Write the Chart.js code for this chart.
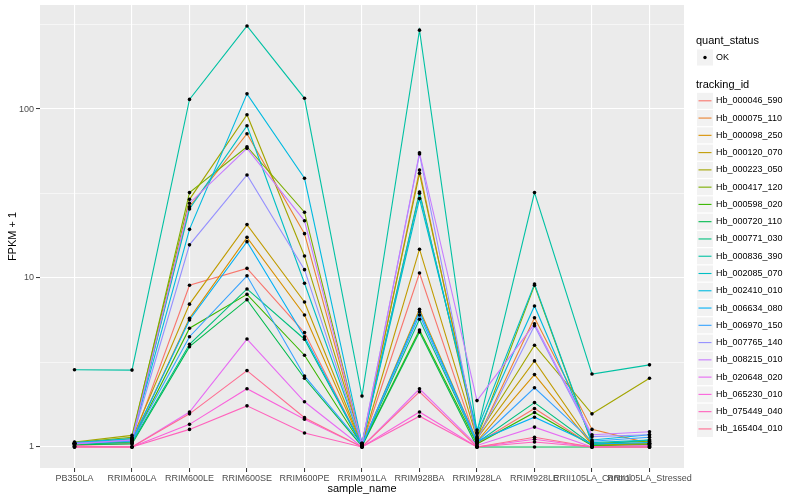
<!DOCTYPE html>
<html>
<head>
<meta charset="utf-8">
<script src="https://cdn.jsdelivr.net/npm/chart.js@4.4.1/dist/chart.umd.min.js"></script>
<style>
  html, body { margin: 0; padding: 0; background: #fff; }
  #wrap { width: 800px; height: 500px; }
</style>
</head>
<body>
<div id="wrap"><canvas id="fpkm__chart" width="800" height="500" style="width:800px;height:500px"></canvas></div>
<script>
// ------------------------------------------ data -------------------
const categories = ["PB350LA", "RRIM600LA", "RRIM600LE", "RRIM600SE", "RRIM600PE", "RRIM901LA",
  "RRIM928BA", "RRIM928LA", "RRIM928LE", "RRII105LA_Control", "RRII105LA_Stressed"];

const trackingIds = ["Hb_000046_590", "Hb_000075_110", "Hb_000098_250", "Hb_000120_070", "Hb_000223_050",
  "Hb_000417_120", "Hb_000598_020", "Hb_000720_110", "Hb_000771_030", "Hb_000836_390",
  "Hb_002085_070", "Hb_002410_010", "Hb_006634_080", "Hb_006970_150", "Hb_007765_140",
  "Hb_008215_010", "Hb_020648_020", "Hb_065230_010", "Hb_075449_040", "Hb_165404_010"];

// FPKM + 1, one array per tracking id, in category order
const hb_000046_590 = [1.02, 1.05, 9.05, 11.4, 4.75, 1.02, 10.7, 1.05, 1.69, 1.02, 1.03];
const hb_000075_110 = [1.04, 1.10, 26.4, 71.4, 18.3, 1.03, 43.5, 1.10, 5.82, 1.27, 1.05];
const hb_000098_250 = [1.03, 1.08, 5.77, 17.4, 6.04, 1.02, 6.53, 1.08, 2.68, 1.03, 1.04];
const hb_000120_070 = [1.05, 1.12, 7.0, 20.7, 7.21, 1.03, 14.8, 1.12, 3.23, 1.04, 1.05];
const hb_000223_050 = [1.07, 1.17, 29.2, 92.5, 13.5, 1.05, 41.6, 1.15, 4.0, 1.57, 2.55];
const hb_000417_120 = [1.06, 1.14, 32.0, 59.8, 24.5, 1.04, 32.3, 1.13, 9.05, 1.05, 1.08];
const hb_000598_020 = [1.04, 1.07, 5.04, 8.0, 3.49, 1.02, 4.92, 1.04, 1.60, 1.02, 1.03];
const hb_000720_110 = [1.03, 1.04, 3.92, 7.44, 2.55, 1.01, 4.79, 1.0, 1.0, 1.0, 1.0];
const hb_000771_030 = [1.04, 1.06, 4.05, 8.61, 4.34, 1.02, 5.70, 1.06, 1.83, 1.03, 1.10];
const hb_000836_390 = [2.86, 2.85, 114, 310, 115.7, 2.0, 293, 1.22, 32.0, 2.70, 3.06];
const hb_002085_070 = [1.05, 1.10, 25.6, 79.6, 9.3, 1.04, 29.5, 1.26, 9.21, 1.06, 1.10];
const hb_002410_010 = [1.06, 1.12, 19.4, 123, 38.9, 1.05, 31.7, 1.20, 6.83, 1.10, 1.18];
const hb_006634_080 = [1.05, 1.09, 5.64, 16.4, 4.49, 1.03, 6.32, 1.08, 1.50, 1.04, 1.06];
const hb_006970_150 = [1.05, 1.08, 4.49, 10.3, 2.63, 1.03, 6.04, 1.07, 2.24, 1.08, 1.14];
const hb_007765_140 = [1.05, 1.10, 15.7, 40.7, 11.2, 1.04, 54.2, 1.10, 5.22, 1.15, 1.18];
const hb_008215_010 = [1.04, 1.10, 27.7, 58.5, 21.8, 1.04, 55.1, 1.88, 5.35, 1.18, 1.23];
const hb_020648_020 = [1.01, 1.0, 1.61, 4.35, 1.85, 1.0, 2.21, 1.02, 1.31, 1.0, 1.02];
const hb_065230_010 = [1.0, 1.0, 1.36, 2.21, 1.46, 1.0, 1.61, 1.0, 1.11, 1.0, 1.0];
const hb_075449_040 = [1.0, 1.0, 1.27, 1.75, 1.21, 1.0, 1.52, 1.0, 1.07, 1.0, 1.0];
const hb_165404_010 = [1.0, 1.0, 1.57, 2.83, 1.49, 1.0, 2.12, 1.0, 1.14, 1.0, 1.0];

const seriesValues = [hb_000046_590, hb_000075_110, hb_000098_250, hb_000120_070, hb_000223_050,
  hb_000417_120, hb_000598_020, hb_000720_110, hb_000771_030, hb_000836_390,
  hb_002085_070, hb_002410_010, hb_006634_080, hb_006970_150, hb_007765_140,
  hb_008215_010, hb_020648_020, hb_065230_010, hb_075449_040, hb_165404_010];

const yMajorBreaks = [1, 10, 100];
const yMajorLabels = ["1", "10", "100"];
const yMinorBreaks = [3.162, 31.62, 316.2];

// ggplot hue palette, 20 levels
const seriesColors = ["#F8766D", "#EA8331", "#D89000", "#C09B00", "#A3A500", "#7CAE00", "#39B600",
  "#00BB4E", "#00BF7D", "#00C1A3", "#00BFC4", "#00BAE0", "#00B0F6", "#35A2FF", "#9590FF",
  "#C77CFF", "#E76BF3", "#FA62DB", "#FF62BC", "#FF6C91"];

// ------------------------------------------ chart -------------------
Chart.defaults.font.family = '"Liberation Sans", Arial, sans-serif';

var lineSets = seriesValues.map((vals, i) => ({
  label: trackingIds[i],
  data: vals.map((v, j) => ({ x: j, y: v })),
  borderColor: seriesColors[i],
  borderWidth: 1.1,
  pointRadius: 0,
  fill: false,
  tension: 0,
  order: seriesValues.length - 1 - i,
}));

var pointData = [];
seriesValues.forEach((vals) => vals.forEach((v, j) => pointData.push({ x: j, y: v })));

var pointSet = {
  label: "OK",
  data: pointData,
  showLine: false,
  pointRadius: 1.8,
  pointBackgroundColor: "#000000",
  pointBorderWidth: 0,
  order: -1,
};

var panelBg = {
  id: "panelBg",
  beforeDraw(chart) {
    const { ctx, chartArea: a } = chart;
    ctx.save();
    ctx.fillStyle = "#FFFFFF";
    ctx.fillRect(0, 0, chart.width, chart.height);
    ctx.fillStyle = "#EBEBEB";
    ctx.fillRect(a.left, a.top, a.right - a.left, a.bottom - a.top);
    ctx.restore();
  },
};

var sideLegend = {
  id: "sideLegend",
  afterDraw(chart) {
    const ctx = chart.ctx;
    const fam = Chart.defaults.font.family;
    ctx.save();
    ctx.textBaseline = "middle";
    ctx.textAlign = "left";
    ctx.fillStyle = "#000000";
    ctx.font = "11px " + fam;
    ctx.fillText("quant_status", 696, 41);
    ctx.fillStyle = "#F2F2F2";
    ctx.fillRect(697, 49.5, 16, 16);
    ctx.fillStyle = "#000000";
    ctx.beginPath();
    ctx.arc(705, 57.5, 1.7, 0, Math.PI * 2);
    ctx.fill();
    ctx.font = "9px " + fam;
    ctx.fillText("OK", 716, 57.5);
    ctx.font = "11px " + fam;
    ctx.fillText("tracking_id", 696, 84.5);

    ctx.font = "9px " + fam;
    lineSets.forEach((ds, i) => {
      const y = 100.8 + 17.27 * i;
      ctx.fillStyle = "#F2F2F2";
      ctx.fillRect(697, y - 8, 16, 16);
      ctx.strokeStyle = ds.borderColor;
      ctx.lineWidth = 1.1;
      ctx.beginPath();
      ctx.moveTo(698.5, y);
      ctx.lineTo(711.5, y);
      ctx.stroke();
      ctx.fillStyle = "#000000";
      ctx.fillText(ds.label, 716, y);
    });
    ctx.restore();
  },
};

var isMajor = (v) => yMajorBreaks.indexOf(v) !== -1;

var fpkmChart = new Chart(document.getElementById("fpkm__chart"), {
  type: "line",
  data: { datasets: lineSets.concat([pointSet]) },
  options: {
    responsive: false,
    animation: false,
    devicePixelRatio: 1,
    layout: { padding: { top: 5, right: 116, bottom: 0, left: 0 } },
    plugins: { legend: { display: false }, tooltip: { enabled: false } },
    scales: {
      x: {
        type: "linear",
        min: -0.6,
        max: 10.6,
        afterBuildTicks: (s) => { s.ticks = categories.map((c, i) => ({ value: i })); },
        afterFit: (s) => { s.height = 32; s.paddingLeft = 0; s.paddingRight = 0; },
        ticks: {
          autoSkip: false, maxRotation: 0, minRotation: 0,
          callback: (v) => categories[v],
          color: "#4D4D4D", font: { size: 9 }, padding: 1,
        },
        grid: { color: "#FFFFFF", lineWidth: 1.1, tickLength: 4, tickColor: "#333333", tickWidth: 1 },
        border: { display: false },
        title: { display: true, text: "sample_name", color: "#000000", font: { size: 11 }, padding: { top: 0, bottom: 4 } },
      },
      y: {
        type: "logarithmic",
        min: 0.7504,
        max: 412.7,
        afterBuildTicks: (s) => {
          s.ticks = yMajorBreaks.concat(yMinorBreaks).sort((a, b) => a - b).map((v) => ({ value: v }));
        },
        afterFit: (s) => { s.width = 40; s.paddingTop = 0; s.paddingBottom = 0; },
        ticks: {
          autoSkip: false,
          callback: (v) => (isMajor(v) ? yMajorLabels[yMajorBreaks.indexOf(v)] : ""),
          color: "#4D4D4D", font: { size: 9 }, padding: 2,
        },
        grid: {
          color: "#FFFFFF",
          lineWidth: (c) => (c.tick && isMajor(c.tick.value) ? 1.1 : 0.55),
          tickLength: 4,
          tickColor: (c) => (c.tick && isMajor(c.tick.value) ? "#333333" : "rgba(0,0,0,0)"),
          tickWidth: 1,
        },
        border: { display: false },
        title: { display: true, text: "FPKM + 1", color: "#000000", font: { size: 11 }, padding: { top: 6, bottom: 0 } },
      },
    },
  },
  plugins: [panelBg, sideLegend],
});
</script>
</body>
</html>
